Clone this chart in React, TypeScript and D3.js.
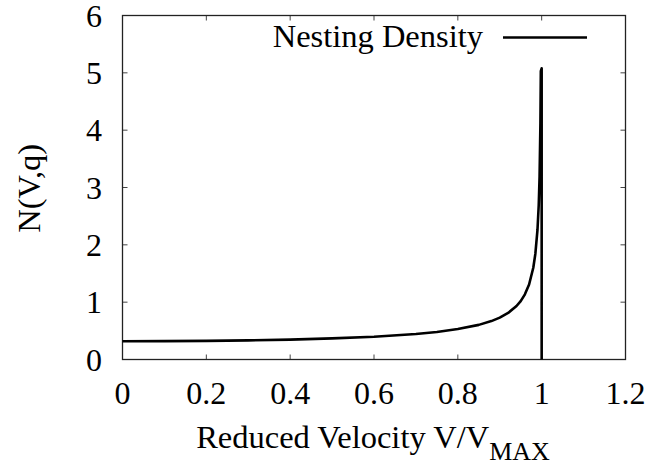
import React from "react";
import * as d3 from "d3";

const W = 654;
const H = 465;

const xTicks = [0, 0.2, 0.4, 0.6, 0.8, 1, 1.2];
const yTicks = [0, 1, 2, 3, 4, 5, 6];
const xTickLabels = ["0", "0.2", "0.4", "0.6", "0.8", "1", "1.2"];
const yTickLabels = ["0", "1", "2", "3", "4", "5", "6"];

// Reduced velocity values and nesting density
const velocity = [
  0, 0.1, 0.2, 0.3, 0.4, 0.5, 0.6, 0.7, 0.75, 0.8, 0.85, 0.88, 0.9, 0.92, 0.94,
  0.95, 0.96, 0.97, 0.98, 0.985, 0.99, 0.993, 0.995, 0.997, 0.998, 1.0, 1.0,
];
const density = [
  0.318, 0.32, 0.325, 0.334, 0.347, 0.368, 0.398, 0.446, 0.481, 0.531, 0.604,
  0.67, 0.73, 0.812, 0.933, 1.019, 1.137, 1.309, 1.6, 1.846, 2.259, 2.695,
  3.189, 4.113, 5.03, 5.08, 0,
];

const seriesName = "Nesting Density";
const xTitle = "Reduced Velocity V/V";
const xTitleSub = "MAX";
const yTitle = "N(V,q)";

const left = 122.5;
const right = 625.5;
const top = 15.5;
const bottom = 359.5;

export default function App() {
  const x = d3.scaleLinear().domain([0, 1.2]).range([left, right]);
  const y = d3.scaleLinear().domain([0, 6]).range([bottom, top]);
  const pts: [number, number][] = velocity.map((v, i) => [v, density[i]]);
  const line = d3
    .line<[number, number]>()
    .x((d) => x(d[0]))
    .y((d) => y(d[1]));
  const font = '"Liberation Serif", "DejaVu Serif", "Times New Roman", serif';
  const fs = 32;
  const fsTitle = 32.5;
  const tick = 5;
  return (
    <svg
      width={W}
      height={H}
      style={{ position: "absolute", left: 0, top: 0, background: "#fff", fontFamily: font }}
    >
      <rect x={0} y={0} width={W} height={H} fill="#fff" />
      {/* ticks */}
      {xTicks.map((t, i) => (
        <g key={"xt" + i} stroke="#444" strokeWidth={1}>
          <line x1={x(t)} x2={x(t)} y1={bottom} y2={bottom - tick} />
          <line x1={x(t)} x2={x(t)} y1={top} y2={top + tick} />
        </g>
      ))}
      {yTicks.map((t, i) => (
        <g key={"yt" + i} stroke="#444" strokeWidth={1}>
          <line x1={left} x2={left + tick} y1={y(t)} y2={y(t)} />
          <line x1={right} x2={right - tick} y1={y(t)} y2={y(t)} />
        </g>
      ))}
      <rect
        x={left}
        y={top}
        width={right - left}
        height={bottom - top}
        fill="none"
        stroke="#222"
        strokeWidth={1.3}
      />
      {/* tick labels */}
      {xTicks.map((t, i) => (
        <text
          key={"xl" + i}
          x={x(t)}
          y={403.5}
          textAnchor="middle"
          fontSize={fs}
          fill="#000"
          style={{ fontFamily: font }}
        >
          {xTickLabels[i]}
        </text>
      ))}
      {yTicks.map((t, i) => (
        <text
          key={"yl" + i}
          x={102}
          y={y(t) + 11}
          textAnchor="end"
          fontSize={fs}
          fill="#000"
          style={{ fontFamily: font }}
        >
          {yTickLabels[i]}
        </text>
      ))}
      {/* axis titles */}
      <text
        x={373}
        y={448.3}
        textAnchor="middle"
        fontSize={fsTitle}
        fill="#000"
        style={{ fontFamily: font }}
      >
        {xTitle}
        <tspan fontSize={26} dy={12}>
          {xTitleSub}
        </tspan>
      </text>
      <text
        transform={`translate(40, 188.3) rotate(-90)`}
        textAnchor="middle"
        fontSize={fsTitle}
        fill="#000"
        style={{ fontFamily: font }}
      >
        {yTitle}
      </text>
      {/* curve */}
      <path d={line(pts) || ""} fill="none" stroke="#000" strokeWidth={2.6} strokeLinejoin="round" />
      {/* legend */}
      <text x={483} y={47.3} textAnchor="end" fontSize={fsTitle} fill="#000" style={{ fontFamily: font }}>
        {seriesName}
      </text>
      <line x1={503} x2={587} y1={37.5} y2={37.5} stroke="#000" strokeWidth={2.6} />
    </svg>
  );
}
